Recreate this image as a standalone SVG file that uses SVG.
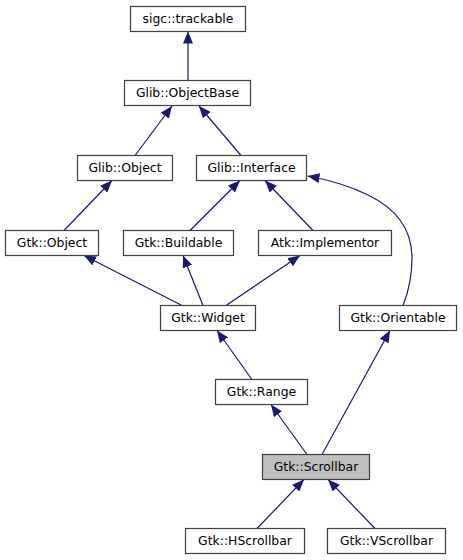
<svg xmlns="http://www.w3.org/2000/svg" width="463" height="560" viewBox="0 0 463 560">
<style>
.n rect{fill:#ffffff;stroke:#404040;stroke-width:1.2}
.n.cur rect{fill:#bfbfbf}
.n text{font-family:"DejaVu Sans","Liberation Sans",sans-serif;font-size:12.4px;text-anchor:middle;fill:#000000}
#edges path{fill:none;stroke:#191970;stroke-width:1.2;marker-end:url(#ah)}
</style>
<defs>
<marker id="ah" markerUnits="userSpaceOnUse" markerWidth="12" markerHeight="10" viewBox="0 0 12 10" refX="12" refY="5" orient="auto">
<path d="M0,0 L12,5 L0,10 z" fill="#191970" stroke="none"/>
</marker>
</defs>
<rect width="463" height="560" fill="#ffffff"/>
<g id="edges">
<path d="M188,80.5 L188,31.5"/>
<path d="M135,155.5 L172,106"/>
<path d="M241,155.5 L199,106"/>
<path d="M64,230.5 L112,180.5"/>
<path d="M190,230.5 L240,180.5"/>
<path d="M313,230.5 L265,180.5"/>
<path d="M403,305.5 C408,293 412,275 412,258 C412,228 395,208 368,195 C350,186 330,180 307.5,176"/>
<path d="M182,305.5 L84,255.5"/>
<path d="M203,305.5 L183,255.5"/>
<path d="M226,305.5 L300,255.5"/>
<path d="M252,379.5 L217,330.5"/>
<path d="M322,454.5 L390,330.5"/>
<path d="M307,454.5 L271,404.5"/>
<path d="M257,528.5 L304,479.5"/>
<path d="M375,528.5 L328,479.5"/>
</g>
<g id="sigc_trackable" class="n"><rect x="130.5" y="6.5" width="115" height="25"/><text x="188" y="23.3">sigc::trackable</text></g>
<g id="Glib_ObjectBase" class="n"><rect x="124.5" y="80.5" width="126" height="25"/><text x="187.5" y="97.3">Glib::ObjectBase</text></g>
<g id="Glib_Object" class="n"><rect x="77.5" y="155.5" width="95" height="25"/><text x="125" y="172.3">Glib::Object</text></g>
<g id="Glib_Interface" class="n"><rect x="196.5" y="155.5" width="110" height="25"/><text x="251.5" y="172.3">Glib::Interface</text></g>
<g id="Gtk_Object" class="n"><rect x="5.5" y="230.5" width="93" height="25"/><text x="52" y="247.3">Gtk::Object</text></g>
<g id="Gtk_Buildable" class="n"><rect x="123.5" y="230.5" width="110" height="25"/><text x="178.5" y="247.3">Gtk::Buildable</text></g>
<g id="Atk_Implementor" class="n"><rect x="258.5" y="230.5" width="133" height="25"/><text x="325" y="247.3">Atk::Implementor</text></g>
<g id="Gtk_Widget" class="n"><rect x="160.5" y="305.5" width="95" height="25"/><text x="208" y="322.3">Gtk::Widget</text></g>
<g id="Gtk_Orientable" class="n"><rect x="339.5" y="305.5" width="117" height="25"/><text x="398" y="322.3">Gtk::Orientable</text></g>
<g id="Gtk_Range" class="n"><rect x="215.5" y="379.5" width="92" height="25"/><text x="261.5" y="396.3">Gtk::Range</text></g>
<g id="Gtk_Scrollbar" class="n cur"><rect x="262.5" y="454.5" width="107" height="25"/><text x="316" y="471.3">Gtk::Scrollbar</text></g>
<g id="Gtk_HScrollbar" class="n"><rect x="185.5" y="528.5" width="119" height="25"/><text x="245" y="545.3">Gtk::HScrollbar</text></g>
<g id="Gtk_VScrollbar" class="n"><rect x="327.5" y="528.5" width="118" height="25"/><text x="386.5" y="545.3">Gtk::VScrollbar</text></g>
</svg>
